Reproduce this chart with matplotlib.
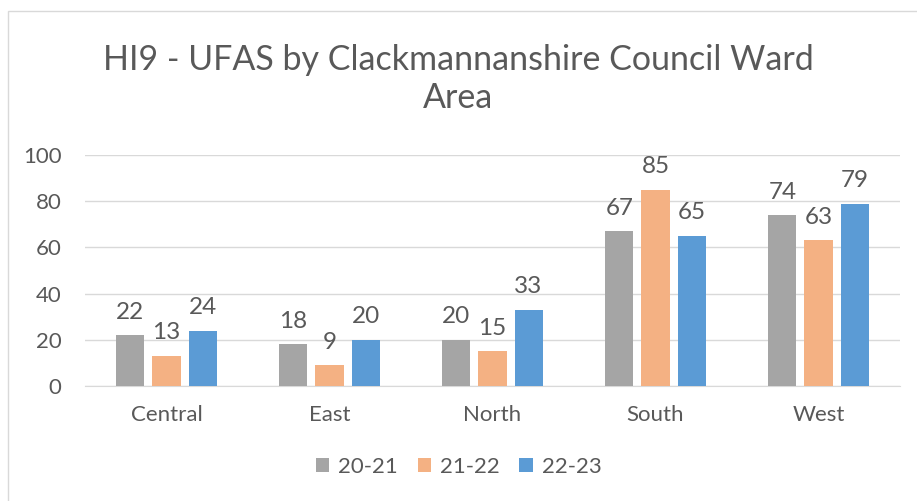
import numpy as np
import matplotlib.pyplot as plt
from matplotlib.patches import Rectangle

plt.rcParams['font.family'] = ['Lato', 'DejaVu Sans']

wards = ['Central', 'East', 'North', 'South', 'West']
years = ['20-21', '21-22', '22-23']
ufas_2021 = [22, 18, 20, 67, 74]
ufas_2122 = [13, 9, 15, 85, 63]
ufas_2223 = [24, 20, 33, 65, 79]
colors = ['#A5A5A5', '#F4B183', '#5B9BD5']
text_col = '#595959'

fig = plt.figure(figsize=(9.17, 5.01), dpi=100)
# chart border like the excel frame
fig.patches.append(Rectangle((8 / 917, -0.1), 1.2, 1 - 11 / 501 + 0.1,
                             transform=fig.transFigure, fill=False,
                             edgecolor='#D9D9D9', linewidth=1))
ax = fig.add_axes([85 / 917, 1 - 386 / 501, 815 / 917, 231 / 501])

x = np.arange(len(wards))
width = 0.172
offset = 0.221
for i, (vals, lab) in enumerate(zip([ufas_2021, ufas_2122, ufas_2223], years)):
    bars = ax.bar(x + (i - 1) * offset, vals, width, color=colors[i], label=lab, zorder=3)
    ax.bar_label(bars, padding=9, fontsize=17.5, color=text_col)

ax.set_xlim(-0.5, len(wards) - 0.5)
ax.set_ylim(0, 100)
ax.set_yticks(range(0, 101, 20))
ax.set_xticks(x)
ax.set_xticklabels(wards)
ax.tick_params(length=0, labelsize=16, labelcolor=text_col)
ax.tick_params(axis='x', pad=14)
ax.tick_params(axis='y', pad=17)
ax.grid(axis='y', color='#D9D9D9', linewidth=1, zorder=0)
for s in ['top', 'right', 'left']:
    ax.spines[s].set_visible(False)
ax.spines['bottom'].set_color('#D9D9D9')

fig.text(0.5, 1 - 79 / 501, 'HI9 - UFAS by Clackmannanshire Council Ward\nArea',
         ha='center', va='center', fontsize=24.5, color=text_col, linespacing=1.25)

fig.legend(loc='center', bbox_to_anchor=(0.5, 1 - 467 / 501), ncol=3, frameon=False,
           fontsize=16, labelcolor=text_col, handlelength=0.6, handleheight=0.6,
           handletextpad=0.4, columnspacing=0.9)

fig.savefig('out.png', dpi=100)
